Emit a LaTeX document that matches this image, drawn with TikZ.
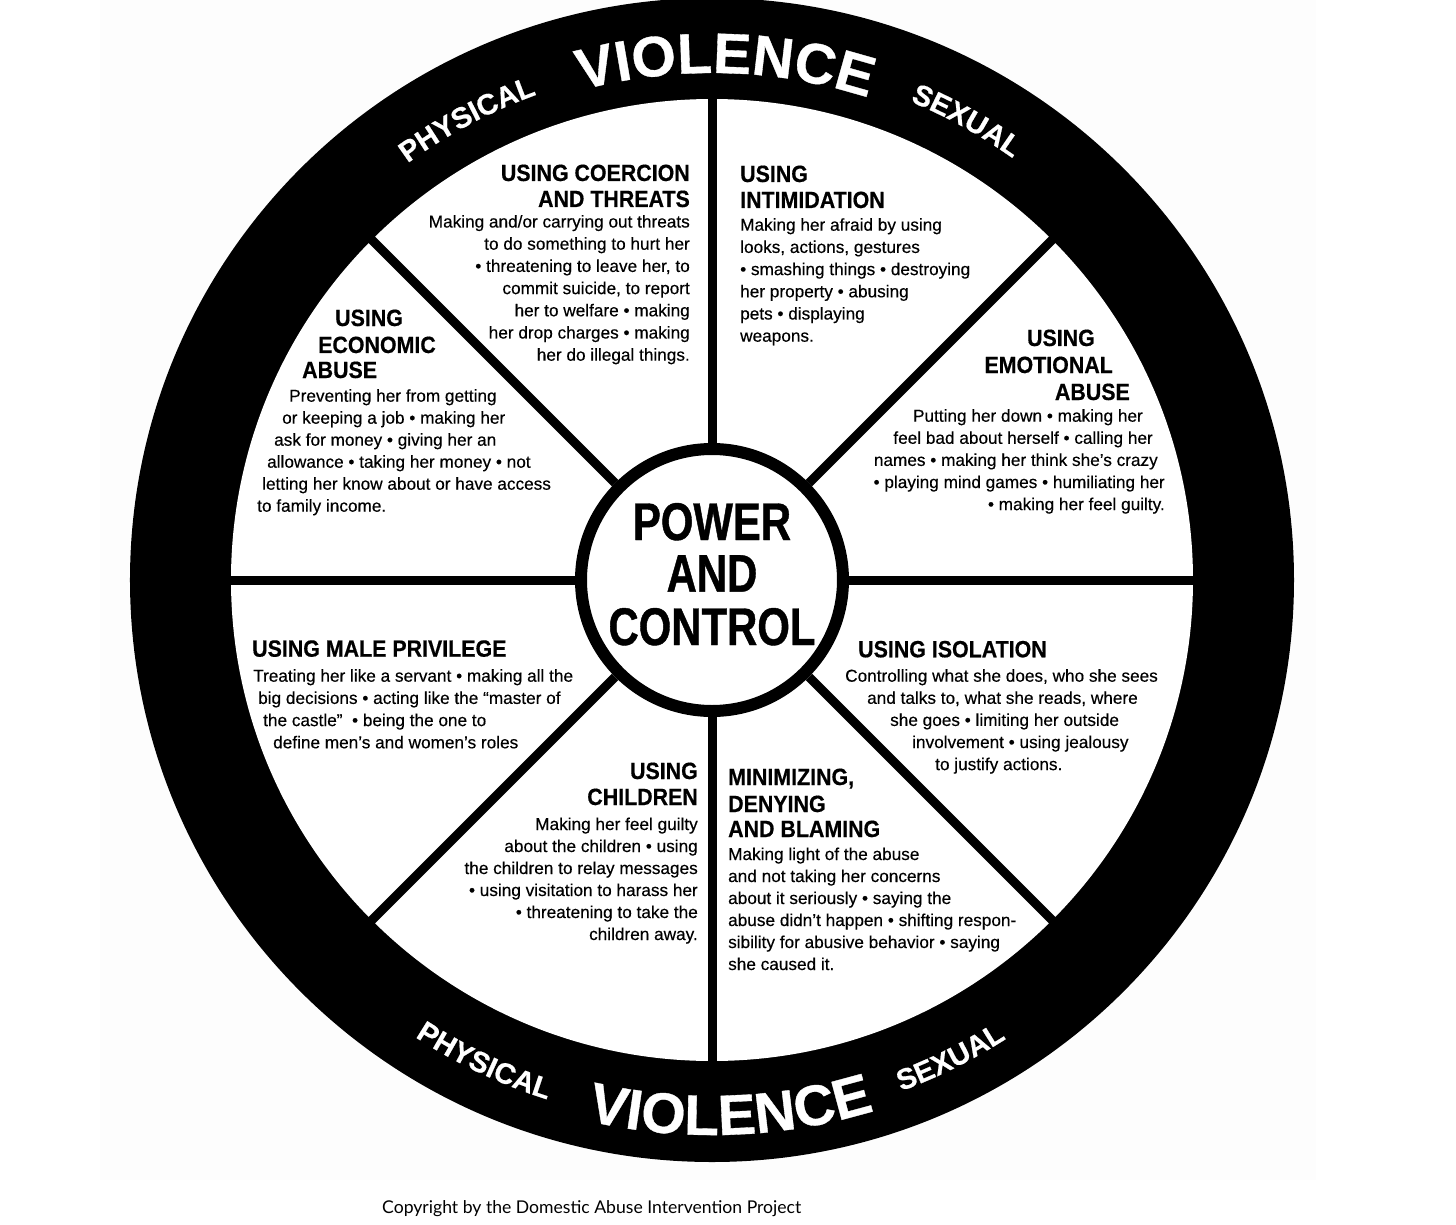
\documentclass[tikz,border=0pt]{standalone}
\usepackage{fontspec}
\setmainfont{Liberation Sans}
\newfontfamily\bodyfam[FakeBold=0.35]{Liberation Sans}
\newfontfamily\headfam[FakeStretch=0.91,FakeBold=0.5]{Liberation Sans}
\newfontfamily\ctrfam[FakeStretch=0.79,FakeBold=0.8]{Liberation Sans}
\newfontfamily\violfam[FakeBold=0.6]{Liberation Sans}
\newfontfamily\copyfam{Lato}
\usetikzlibrary{decorations.text}
\definecolor{paper}{RGB}{253,253,253}
\newcommand\violfont{\violfam\bfseries\fontsize{57}{60}\selectfont\color{white}}
\newcommand\smallviolfont{\violfam\bfseries\fontsize{29}{32}\selectfont\color{white}}
\begin{document}
\begin{tikzpicture}[x=1pt,y=1pt,
  body/.style={font=\bodyfam\fontsize{17.2}{22}\selectfont, inner sep=0pt},
  head/.style={font=\headfam\bfseries\fontsize{23.5}{26}\selectfont, inner sep=0pt},
  ctr/.style={font=\ctrfam\bfseries\fontsize{53}{53}\selectfont, inner sep=0pt, anchor=base},
  spoke/.style={line width=9pt},
  bw/.style={anchor=base west},
  be/.style={anchor=base east}]
\useasboundingbox (-712,580) rectangle (744,-644);
\fill[white] (-712,580) rectangle (744,-644);
\fill[paper] (-612,580) rectangle (604,-600);
% wheel
\fill[black] (0,0) circle[radius=582];
\fill[white] (0,0) circle[radius=481];
\node[circle, draw, line width=12pt, minimum size=262pt, fill=white, inner sep=0pt] (hub) at (0,0) {};
\foreach \a in {0,45,...,315} {
  \coordinate (rim\a) at (\a:486);
  \draw[spoke] (hub.\a) -- (rim\a);
}
% curved rim texts
\path[decorate, decoration={text along path, text align=center,
  text={|\violfont|VIOLENCE}}] (118.5:507) arc[start angle=118.5, end angle=58.5, radius=507];
\path[decorate, decoration={text along path, text align=center,
  text={|\smallviolfont|PHYSICAL}}] (148:516) arc[start angle=148, end angle=88, radius=516];
\path[decorate, decoration={text along path, text align=center,
  text={|\smallviolfont|SEXUAL}}] (91:518) arc[start angle=91, end angle=31, radius=518];
\path[decorate, decoration={text along path, text align=center,
  text={|\violfont|VIOLENCE}}] (242:555) arc[start angle=242, end angle=302, radius=555];
\path[decorate, decoration={text along path, text align=center,
  text={|\smallviolfont|PHYSICAL}}] (214.7:545) arc[start angle=214.7, end angle=274.7, radius=545];
\path[decorate, decoration={text along path, text align=center,
  text={|\smallviolfont|SEXUAL}}] (266.5:545) arc[start angle=266.5, end angle=326.5, radius=545];
% centre
\node[ctr] (pw) at (0,40) {POWER};
\node[ctr] (an) at (0,-11.7) {AND};
\node[ctr] (ct) at (0,-65) {CONTROL};
% coercion
\node[head,be] (cH1) at (-22,399) {USING COERCION};
\node[head,be] (cH2) at (-22,373) {AND THREATS};
\node[body,be] (cB1) at (-22,352.5) {Making and/or carrying out threats};
\node[body,be] (cB2) at (-22,330.3) {to do something to hurt her};
\node[body,be] (cB3) at (-22,308.1) {• threatening to leave her, to};
\node[body,be] (cB4) at (-22,285.9) {commit suicide, to report};
\node[body,be] (cB5) at (-22,263.7) {her to welfare • making};
\node[body,be] (cB6) at (-22,241.5) {her drop charges • making};
\node[body,be] (cB7) at (-22,219.3) {her do illegal things.};
% intimidation
\node[head,bw] (iH1) at (28,398) {USING};
\node[head,bw] (iH2) at (28,372) {INTIMIDATION};
\node[body,bw] (iB1) at (28,349.3) {Making her afraid by using};
\node[body,bw] (iB2) at (28,327.1) {looks, actions, gestures};
\node[body,bw] (iB3) at (28,304.9) {• smashing things • destroying};
\node[body,bw] (iB4) at (28,282.7) {her property • abusing};
\node[body,bw] (iB5) at (28,260.5) {pets • displaying};
\node[body,bw] (iB6) at (28,238.3) {weapons.};
% economic
\node[head,bw] (eH1) at (-377,254) {USING};
\node[head,bw] (eH2) at (-394,227) {ECONOMIC};
\node[head,bw] (eH3) at (-410,202) {ABUSE};
\node[body,bw] (eB1) at (-423,178.3) {Preventing her from getting};
\node[body,bw] (eB2) at (-430,156.3) {or keeping a job • making her};
\node[body,bw] (eB3) at (-438,134.3) {ask for money • giving her an};
\node[body,bw] (eB4) at (-445,112.3) {allowance • taking her money • not};
\node[body,bw] (eB5) at (-450,90.3) {letting her know about or have access};
\node[body,bw] (eB6) at (-455,68.3) {to family income.};
% emotional
\node[head,be] (mH1) at (383,234) {USING};
\node[head,be] (mH2) at (401,207) {EMOTIONAL};
\node[head,be] (mH3) at (418,180) {ABUSE};
\node[body,be] (mB1) at (431,158.3) {Putting her down • making her};
\node[body,be] (mB2) at (441,136.2) {feel bad about herself • calling her};
\node[body,be] (mB3) at (446,114.1) {names • making her think she’s crazy};
\node[body,be] (mB4) at (453,92) {• playing mind games • humiliating her};
\node[body,be] (mB5) at (453,69.9) {• making her feel guilty.};
% male privilege
\node[head,bw] (pH) at (-460,-76.7) {USING MALE PRIVILEGE};
\node[body,bw] (pB1) at (-459,-101.7) {Treating her like a servant • making all the};
\node[body,bw] (pB2) at (-454,-123.9) {big decisions • acting like the “master of};
\node[body,bw] (pB3) at (-449,-146.1) {the castle”\ \ • being the one to};
\node[body,bw] (pB4) at (-439,-168.3) {define men’s and women’s roles};
% isolation
\node[head,bw] (sH) at (146,-77.3) {USING ISOLATION};
\node[body,bw] (sB1) at (133,-101.7) {Controlling what she does, who she sees};
\node[body,bw] (sB2) at (155,-123.8) {and talks to, what she reads, where};
\node[body,bw] (sB3) at (178,-145.9) {she goes • limiting her outside};
\node[body,bw] (sB4) at (200,-168) {involvement • using jealousy};
\node[body,bw] (sB5) at (223,-190.1) {to justify actions.};
% children
\node[head,be] (dH1) at (-14,-199) {USING};
\node[head,be] (dH2) at (-14,-225) {CHILDREN};
\node[body,be] (dB1) at (-14,-250) {Making her feel guilty};
\node[body,be] (dB2) at (-14,-272) {about the children • using};
\node[body,be] (dB3) at (-14,-294) {the children to relay messages};
\node[body,be] (dB4) at (-14,-316) {• using visitation to harass her};
\node[body,be] (dB5) at (-14,-338) {• threatening to take the};
\node[body,be] (dB6) at (-14,-360) {children away.};
% minimizing
\node[head,bw] (nH1) at (16,-205) {MINIMIZING,};
\node[head,bw] (nH2) at (16,-232) {DENYING};
\node[head,bw] (nH3) at (16,-257) {AND BLAMING};
\node[body,bw] (nB1) at (16,-280) {Making light of the abuse};
\node[body,bw] (nB2) at (16,-302) {and not taking her concerns};
\node[body,bw] (nB3) at (16,-324) {about it seriously • saying the};
\node[body,bw] (nB4) at (16,-346) {abuse didn’t happen • shifting respon-};
\node[body,bw] (nB5) at (16,-368) {sibility for abusive behavior • saying};
\node[body,bw] (nB6) at (16,-390) {she caused it.};
% copyright
\node[font=\copyfam\fontsize{17.6}{19}\selectfont, inner sep=0pt, bw] (copy) at (-330,-633)
  {Copyright by the Domestic Abuse Intervention Project};
\end{tikzpicture}
\end{document}
